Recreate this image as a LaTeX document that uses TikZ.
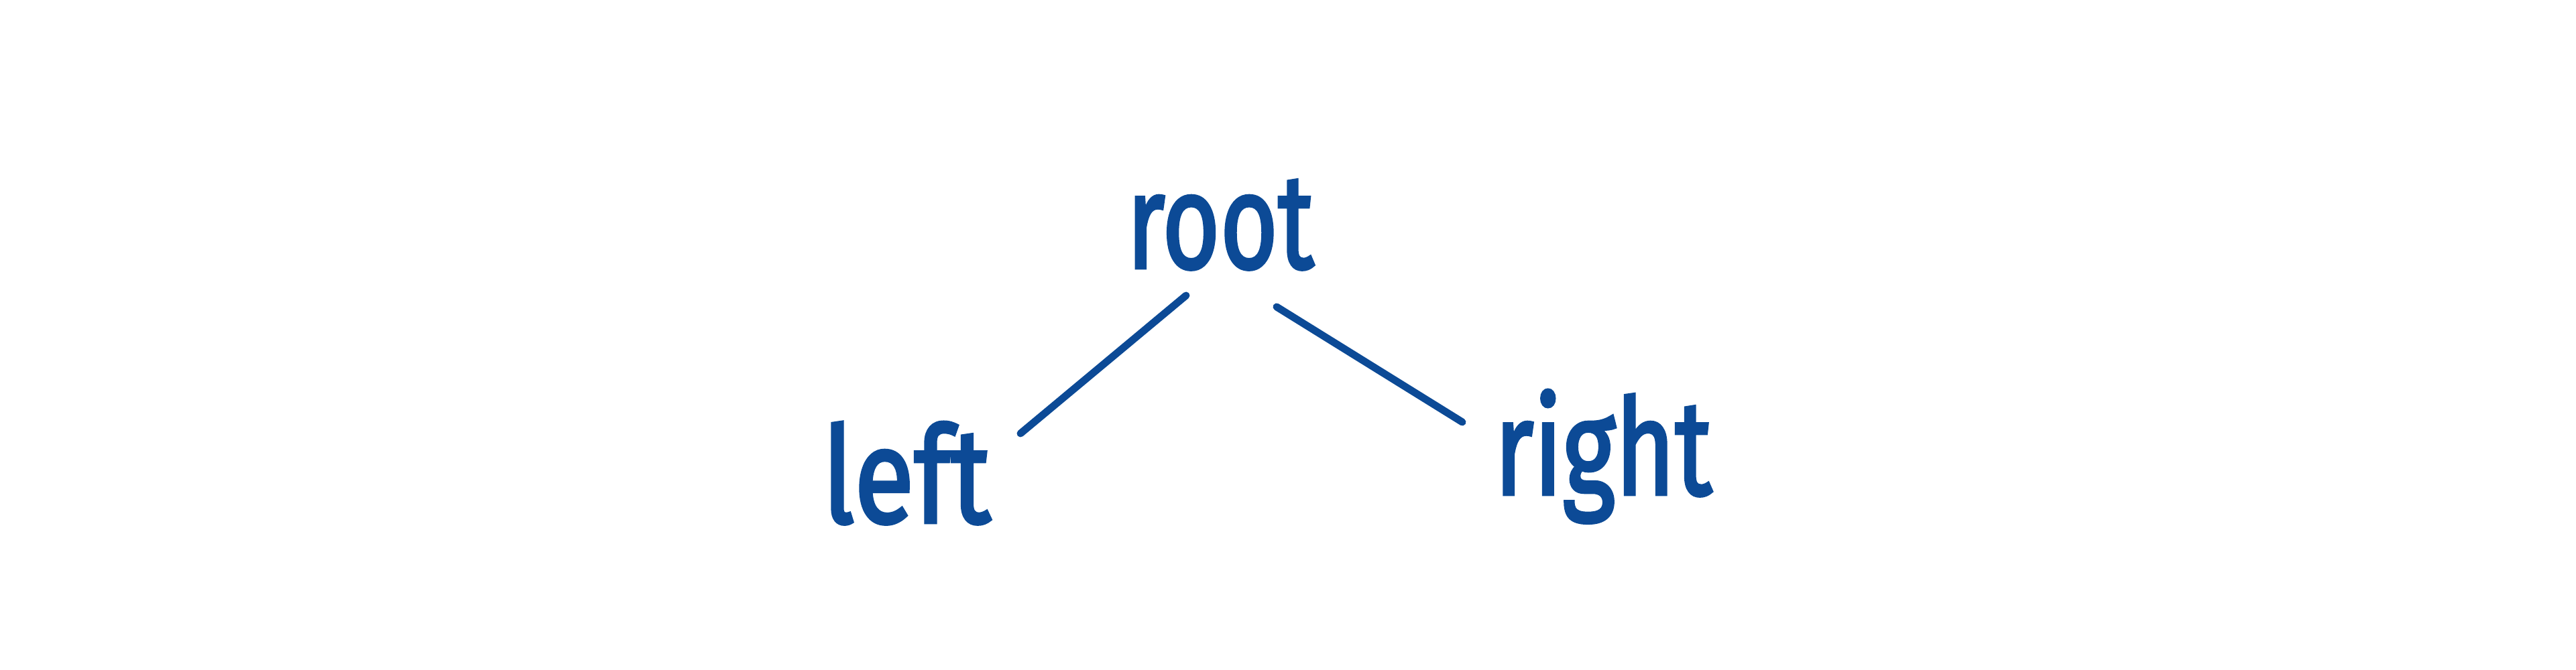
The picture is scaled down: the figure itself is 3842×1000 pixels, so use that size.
\documentclass[tikz,border=0pt]{standalone}
\usepackage{fontspec}
\newfontfamily\hand{Fira Sans}[FakeBold=2.5]
\usetikzlibrary{calc}
\definecolor{ink}{RGB}{12,74,150}
\tikzset{
  word/.style={text=ink, font=\fontsize{20pt}{24pt}\hand, inner sep=0pt, anchor=base, transform shape},
  edge/.style={draw=ink, line width=1.1pt, line cap=round}
}
\begin{document}
\begin{tikzpicture}[x=0.1pt, y=-0.1pt]
\useasboundingbox[fill=white] (0,0) rectangle (3842,1000);
\node[word, xscale=0.74] (root) at (1820,400) {root};
\node[word, xscale=0.82] (left) at (1352,780) {left};
\node[word, xscale=0.76] (right) at (2391,738) {right};
\coordinate (rootL) at ($(root.base)+(-51,41)$);
\coordinate (leftT) at ($(left.base)+(170,-133)$);
\coordinate (rootR) at ($(root.base)+(84,58)$);
\coordinate (rightT) at ($(right.base)+(-210,-108)$);
\draw[edge] (rootL) -- (leftT);
\draw[edge] (rootR) -- (rightT);
\end{tikzpicture}
\end{document}
